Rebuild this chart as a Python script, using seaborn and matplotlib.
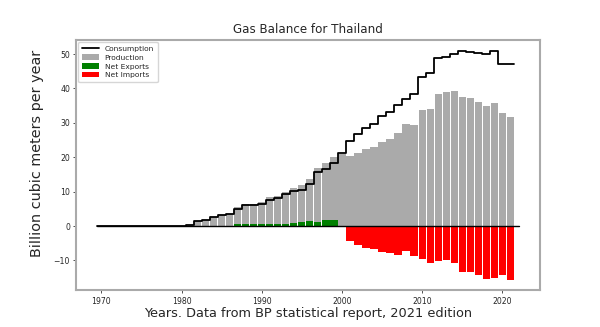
import numpy as np
import pandas as pd
import matplotlib
matplotlib.use("Agg")
import matplotlib.pyplot as plt
import seaborn as sns

# Thailand natural gas, billion cubic metres per year
years = list(range(1970, 2022))
consumption = [0.0] * 11 + [
    0.4, 1.5, 1.8, 2.5, 3.3, 3.6, 4.9, 6.0, 6.0, 6.5,
    7.7, 8.2, 9.3, 10.3, 10.6, 12.2, 15.6, 16.5, 18.3, 21.1,
    24.7, 26.7, 28.6, 29.7, 32.0, 33.1, 35.3, 37.0, 38.3, 43.3,
    44.5, 48.7, 49.0, 50.0, 51.0, 50.7, 50.2, 50.1, 50.9, 47.0,
    47.2,
]
production = [0.0] * 11 + [
    0.4, 1.5, 1.8, 2.5, 3.3, 3.6, 5.4, 6.5, 6.5, 7.1,
    8.3, 8.8, 9.9, 11.2, 11.8, 13.6, 16.9, 18.2, 20.1, 20.9,
    20.3, 21.2, 22.3, 23.1, 24.5, 25.2, 26.9, 29.8, 29.5, 33.8,
    33.9, 38.5, 39.1, 39.2, 37.5, 37.3, 36.0, 34.8, 35.7, 32.8,
    31.6,
]

df = pd.DataFrame({"year": years, "consumption": consumption, "production": production})
df["balance"] = df["production"] - df["consumption"]
df["exports"] = df["balance"].clip(lower=0)
df["imports"] = df["balance"].clip(upper=0)

sns.set_style("ticks")
plt.rcParams["font.family"] = ["DejaVu Sans"]

fig, ax = plt.subplots(figsize=(6.0, 3.27), dpi=100)
fig.subplots_adjust(left=0.127, right=0.9, top=0.879, bottom=0.112)

bar_kw = dict(native_scale=True, width=0.9, saturation=1, errorbar=None, ax=ax, linewidth=0)
sns.barplot(data=df, x="year", y="production", color="#aaaaaa", label="Production", **bar_kw)
sns.barplot(data=df, x="year", y="exports", color="green", label="Net Exports", **bar_kw)
sns.barplot(data=df, x="year", y="imports", color="red", label="Net Imports", **bar_kw)

# consumption as a staircase spanning each year's bar
edges = np.append(df["year"].values - 0.5, df["year"].values[-1] + 0.5)
levels = np.append(df["consumption"].values, df["consumption"].values[-1])
steps = pd.DataFrame({"x": edges, "y": levels})
sns.lineplot(data=steps, x="x", y="y", drawstyle="steps-post", color="black",
             linewidth=1.3, label="Consumption", ax=ax)

ax.plot([edges[0], 2022.1], [0, 0], color="black", linewidth=1.0, zorder=4)

ax.set_xlim(1966.86, 2024.7)
ax.set_ylim(-18.7, 54.2)
ax.set_xticks([1970, 1980, 1990, 2000, 2010, 2020])
ax.set_yticks([-10, 0, 10, 20, 30, 40, 50])
ax.tick_params(labelsize=5.6, length=2.5, width=0.6, pad=2, color="#333333")

for side in ["left", "right", "top", "bottom"]:
    ax.spines[side].set_visible(True)
    ax.spines[side].set_color("#aaaaaa")
    ax.spines[side].set_linewidth(1.5)

ax.set_title("Gas Balance for Thailand", fontsize=8.6, pad=5)
ax.set_xlabel("Years. Data from BP statistical report, 2021 edition", fontsize=9.3, labelpad=1)
ax.set_ylabel("Billion cubic meters per year", fontsize=10.4)
ax.yaxis.set_label_coords(-0.07, 0.545)

handles, labels = ax.get_legend_handles_labels()
order = [labels.index(n) for n in ["Consumption", "Production", "Net Exports", "Net Imports"]]
ax.legend([handles[i] for i in order], [labels[i] for i in order], loc="upper left",
          fontsize=5.4, frameon=True, handlelength=2.2, borderpad=0.5, labelspacing=0.35,
          borderaxespad=0.3)

fig.savefig("out.png", dpi=100)
